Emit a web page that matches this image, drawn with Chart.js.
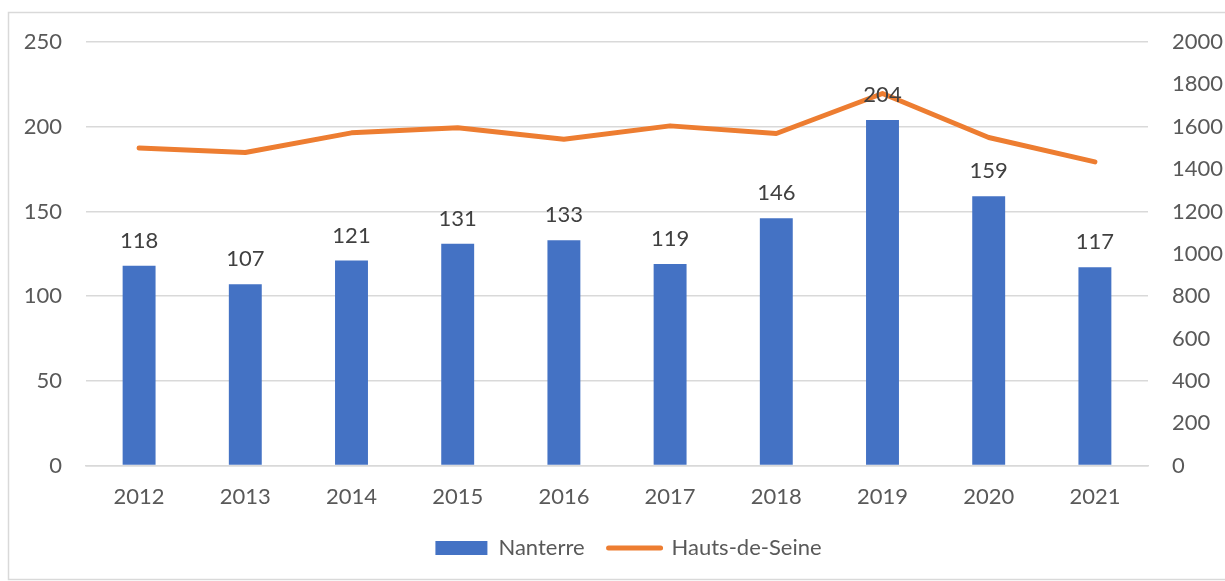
<!DOCTYPE html>
<html>
<head>
<meta charset="utf-8">
<script src="https://cdn.jsdelivr.net/npm/chart.js@4"></script>
<style>
  html, body { margin: 0; padding: 0; background: #fff; }
  canvas { display: block; }
</style>
</head>
<body>
<canvas id="myChart" width="1225" height="581"></canvas>
<script>
var years = ['2012', '2013', '2014', '2015', '2016', '2017', '2018', '2019', '2020', '2021'];
var nanterre = [118, 107, 121, 131, 133, 119, 146, 204, 159, 117];
var hautsDeSeine = [1500, 1478, 1571, 1595, 1541, 1604, 1568, 1757, 1549, 1434];

var FONT = 'Lato, "Open Sans", sans-serif';
var FS = 22;

// light frame around the chart, like the office export
const framePlugin = {
  id: 'frame',
  beforeDraw(chart) {
    const c = chart.ctx;
    c.save();
    c.strokeStyle = '#d9d9d9';
    c.lineWidth = 1.5;
    c.strokeRect(8.5, 12.5, 1240, 567);
    c.restore();
  },
  // the original legend sits a little right of centre
  afterLayout(chart) {
    if (chart.legend) {
      chart.legend.left += 16;
      chart.legend.right += 16;
    }
  }
};

// value labels above the bars
const barLabels = {
  id: 'barLabels',
  afterDatasetsDraw(chart) {
    const c = chart.ctx;
    const meta = chart.getDatasetMeta(0);
    c.save();
    c.font = FS + 'px ' + FONT;
    c.fillStyle = '#404040';
    c.textAlign = 'center';
    c.textBaseline = 'alphabetic';
    meta.data.forEach(function (bar, i) {
      c.fillText(String(nanterre[i]), bar.x, bar.y - 18);
    });
    c.restore();
  }
};

var ctx = document.getElementById('myChart');

const cfg = {
  data: {
    labels: years,
    datasets: [
      {
        type: 'bar',
        label: 'Nanterre',
        data: nanterre,
        backgroundColor: '#4472C4',
        borderWidth: 0,
        barPercentage: 0.31,
        categoryPercentage: 1,
        yAxisID: 'y',
        order: 1,
        pointStyle: 'rect'
      },
      {
        type: 'line',
        label: 'Hauts-de-Seine',
        data: hautsDeSeine,
        borderColor: '#ED7D31',
        backgroundColor: '#ED7D31',
        borderWidth: 5,
        pointRadius: 0,
        tension: 0,
        borderCapStyle: 'round',
        borderJoinStyle: 'round',
        yAxisID: 'y1',
        order: 0,
        pointStyle: 'line'
      }
    ]
  },
  options: {
    responsive: false,
    animation: false,
    layout: {
      padding: { left: 0, right: 0, top: 42, bottom: 12 }
    },
    plugins: {
      tooltip: { enabled: false },
      legend: {
        position: 'bottom',
        labels: {
          font: { family: FONT, size: FS },
          color: '#595959',
          usePointStyle: true,
          pointStyleWidth: 52,
          boxWidth: 52,
          boxHeight: 14,
          padding: 24,
          sort: function (a, b) { return a.datasetIndex - b.datasetIndex; },
          generateLabels: function (chart) {
            return chart.data.datasets.map(function (ds, i) {
              const isLine = ds.type === 'line';
              return {
                text: ds.label,
                datasetIndex: i,
                fillStyle: isLine ? ds.borderColor : ds.backgroundColor,
                strokeStyle: isLine ? ds.borderColor : ds.backgroundColor,
                lineWidth: isLine ? 5 : 0,
                lineCap: 'round',
                pointStyle: ds.pointStyle,
                fontColor: '#595959',
                hidden: false
              };
            });
          }
        }
      }
    },
    scales: {
      x: {
        afterFit: function (scale) { scale.height -= 15; },
        grid: { display: false, drawTicks: false },
        border: { display: true, color: '#d9d9d9', width: 1.5 },
        ticks: { font: { family: FONT, size: FS }, color: '#595959', padding: 18 }
      },
      y: {
        position: 'left',
        min: 0,
        max: 250,
        afterFit: function (scale) { scale.width = 86; },
        ticks: { stepSize: 50, font: { family: FONT, size: FS }, color: '#595959', padding: 24 },
        grid: { color: '#d9d9d9', lineWidth: 1.5, drawTicks: false },
        border: { display: false }
      },
      y1: {
        position: 'right',
        min: 0,
        max: 2000,
        afterFit: function (scale) { scale.width = 77; },
        ticks: {
          stepSize: 200,
          font: { family: FONT, size: FS },
          color: '#595959',
          padding: 24,
          callback: function (v) { return String(v); }
        },
        grid: { display: false, drawTicks: false },
        border: { display: false }
      }
    }
  },
  plugins: [framePlugin, barLabels]
};

new Chart(ctx, cfg);
</script>
</body>
</html>
